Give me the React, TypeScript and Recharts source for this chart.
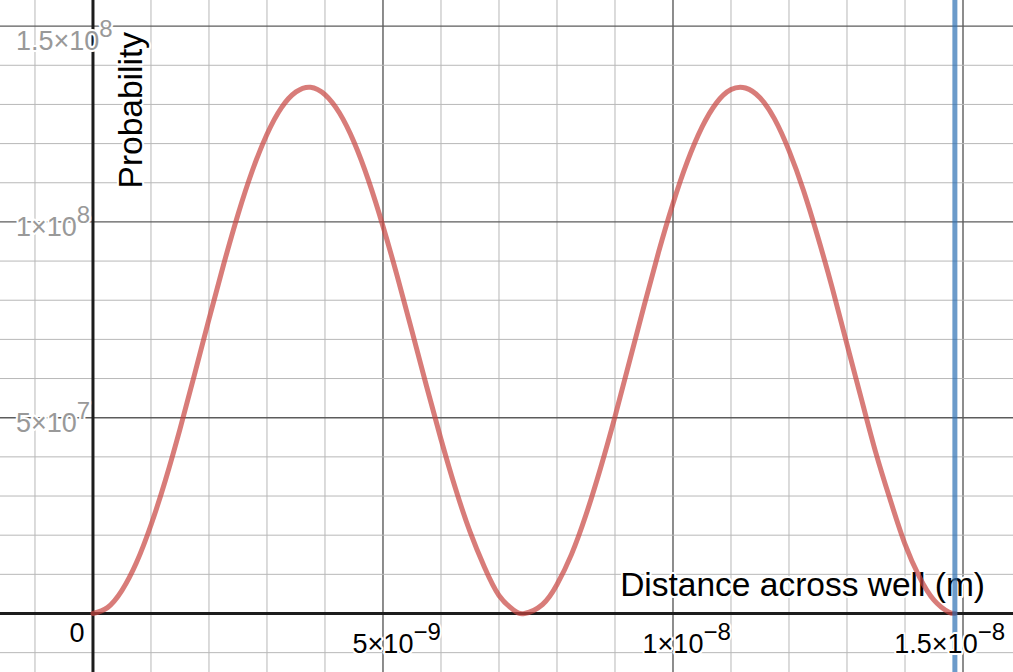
import { ComposedChart, Line, ReferenceDot, ReferenceLine, XAxis, YAxis } from "recharts";

// distance across the well, in nanometres
const distanceNm = [
  0, 0.25, 0.5, 0.75, 1, 1.25, 1.5, 1.75, 2, 2.25, 2.5, 2.75, 3, 3.25, 3.5, 3.75, 4, 4.25, 4.5, 4.75,
  5, 5.25, 5.5, 5.75, 6, 6.25, 6.5, 6.75, 7, 7.25, 7.44, 7.75, 8, 8.25, 8.5, 8.75, 9, 9.25, 9.5,
  9.75, 10, 10.25, 10.5, 10.75, 11, 11.25, 11.5, 11.75, 12, 12.25, 12.5, 12.75, 13, 13.25, 13.5,
  13.75, 14, 14.25, 14.5, 14.75, 14.86,
];

// probability density, in units of 10^7
const probability1e7 = [
  0, 0.15, 0.59, 1.3, 2.26, 3.41, 4.71, 6.1, 7.52, 8.9, 10.19, 11.32, 12.24, 12.92, 13.32, 13.44, 13.25,
  12.78, 12.04, 11.06, 9.89, 8.59, 7.21, 5.81, 4.45, 3.19, 2.09, 1.18, 0.46, 0.09, 0, 0.23, 0.74,
  1.51, 2.52, 3.71, 5.03, 6.44, 7.85, 9.22, 10.47, 11.55, 12.42, 13.04, 13.38, 13.42, 13.17,
  12.63, 11.82, 10.8, 9.6, 8.29, 6.87, 5.47, 4.09, 2.88, 1.77, 0.93, 0.34, 0.04, 0,
];

const wellWidthNm = 14.86;

const xGridNm = [-1, 1, 2, 3, 4, 5, 6, 7, 8, 9, 10, 11, 12, 13, 14, 15];
const xMajorNm = [5, 10, 15];
const yGrid1e7 = [-1, 1, 2, 3, 4, 5, 6, 7, 8, 9, 10, 11, 12, 13, 14, 15];
const yMajor1e7 = [5, 10, 15];

const xTickValues = [0, 5e-9, 1e-8, 1.5e-8];
const xTickBase = ["0", "5×10", "1×10", "1.5×10"];
const xTickExp = ["", "−9", "−8", "−8"];
const yTickValues = [5e7, 1e8, 1.5e8];
const yTickBase = ["5×10", "1×10", "1.5×10"];
const yTickExp = ["7", "8", "8"];

const W = 1013;
const H = 672;
const X_DOMAIN = [-1.603e-9, 15.862e-9];
const Y_DOMAIN = [-1.494e7, 15.667e7];
const FONT = "'Liberation Sans', Arial, sans-serif";
const BASE = 27;
const SUP = 24;

const data = distanceNm.map((x, i) => ({ x: x * 1e-9, y: probability1e7[i] * 1e7 }));

const EM: Record<string, number> = { ".": 0.278, "×": 0.584, "−": 0.584 };
function textWidth(s: string, size: number) {
  let w = 0;
  for (const c of s) w += (EM[c] ?? 0.556) * size;
  return w;
}

const halo = {
  stroke: "#fff",
  strokeWidth: 4,
  strokeLinejoin: "round" as const,
  paintOrder: "stroke" as const,
};

function xTick(i: number) {
  return (p: any) => {
    const { cx, cy } = p;
    if (!xTickExp[i]) {
      return (
        <text x={cx - 16} y={cy + 29} textAnchor="middle" fontSize={BASE} fontFamily={FONT} fill="#000" {...halo}>
          {xTickBase[i]}
        </text>
      );
    }
    const bw = textWidth(xTickBase[i], BASE);
    const sw = textWidth(xTickExp[i], SUP);
    const left = Math.min(cx - bw / 2, W - 8 - bw - sw);
    return (
      <text x={left} y={cy + 40} fontSize={BASE} fontFamily={FONT} fill="#000" {...halo}>
        <tspan>{xTickBase[i]}</tspan>
        <tspan dy={-13} fontSize={SUP}>
          {xTickExp[i]}
        </tspan>
      </text>
    );
  };
}

function yTick(i: number) {
  return (p: any) => {
    const { cy } = p;
    const baseY = Math.max(cy + 14, 50);
    return (
      <text x={16} y={baseY} fontSize={BASE} fontFamily={FONT} fill="#999" {...halo}>
        <tspan>{yTickBase[i]}</tspan>
        <tspan dy={-13} fontSize={SUP}>
          {yTickExp[i]}
        </tspan>
      </text>
    );
  };
}

export default function App() {
  return (
    <div style={{ position: "absolute", left: 0, top: 0, background: "#fff" }}>
      <ComposedChart width={W} height={H} data={data} margin={{ top: 0, right: 0, bottom: 0, left: 0 }}>
        <XAxis dataKey="x" type="number" domain={X_DOMAIN} hide allowDataOverflow />
        <YAxis type="number" domain={Y_DOMAIN} hide allowDataOverflow />

        {xGridNm.map((v) => (
          <ReferenceLine key={`gx${v}`} x={v * 1e-9} stroke={xMajorNm.includes(v) ? "#5c5c5c" : "#b8b8b8"} strokeWidth={xMajorNm.includes(v) ? 1.4 : 1} />
        ))}
        {yGrid1e7.map((v) => (
          <ReferenceLine key={`gy${v}`} y={v * 1e7} stroke={yMajor1e7.includes(v) ? "#5c5c5c" : "#b8b8b8"} strokeWidth={yMajor1e7.includes(v) ? 1.4 : 1} />
        ))}

        <ReferenceLine
          y={0}
          stroke="#1c1c1c"
          strokeWidth={3}
          label={{
            content: (p: any) => (
              <text x={p.viewBox.x + p.viewBox.width - 28} y={p.viewBox.y - 17} textAnchor="end" fontSize={33.5} fontFamily={FONT} fill="#000" {...halo}>
                Distance across well (m)
              </text>
            ),
          }}
        />
        <ReferenceLine
          x={0}
          stroke="#1c1c1c"
          strokeWidth={3}
          label={{
            content: (p: any) => (
              <text
                x={p.viewBox.x + 49}
                y={32}
                transform={`rotate(-90 ${p.viewBox.x + 49} 32)`}
                textAnchor="end"
                fontSize={33.5}
                fontFamily={FONT}
                fill="#000"
                {...halo}
              >
                Probability
              </text>
            ),
          }}
        />

        {xTickValues.map((v, i) => (
          <ReferenceDot key={`tx${i}`} x={v} y={0} r={0} shape={xTick(i)} />
        ))}
        {yTickValues.map((v, i) => (
          <ReferenceDot key={`ty${i}`} x={0} y={v} r={0} shape={yTick(i)} />
        ))}

        <Line
          type="natural"
          dataKey="y"
          stroke="#c74440"
          strokeOpacity={0.7}
          strokeWidth={5}
          strokeLinecap="round"
          dot={false}
          activeDot={false}
          isAnimationActive={false}
        />
        <ReferenceLine x={wellWidthNm * 1e-9} stroke="#2d70b3" strokeOpacity={0.7} strokeWidth={5} />
      </ComposedChart>
    </div>
  );
}
